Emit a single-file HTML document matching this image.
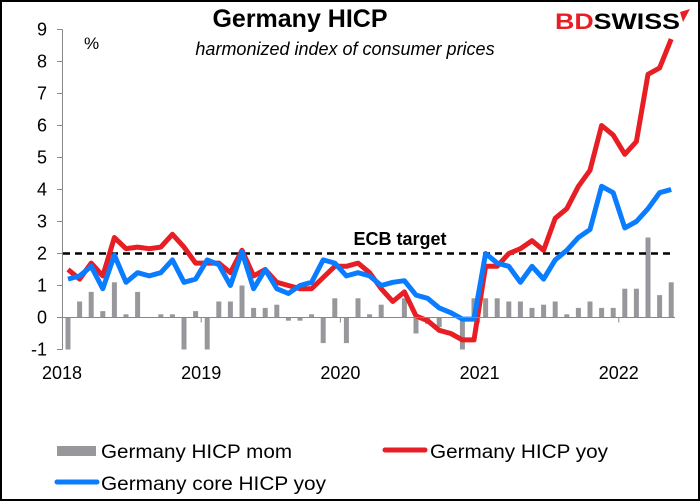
<!DOCTYPE html>
<html><head><meta charset="utf-8"><style>
body{margin:0;background:#fff}
svg{display:block;font-family:"Liberation Sans",Arial,sans-serif}
</style></head><body>
<svg id="chart" width="700" height="501" viewBox="0 0 700 501">
<rect x="1" y="1" width="698" height="499" fill="#fff" stroke="#000" stroke-width="2"/>
<text x="300" y="27" font-size="25" font-weight="bold" text-anchor="middle">Germany HICP</text>
<text x="345" y="55" font-size="18" font-style="italic" text-anchor="middle">harmonized index of consumer prices</text>
<text x="84" y="49" font-size="17">%</text>
<g>
<text x="555" y="29" font-size="22" font-weight="bold" textLength="125" lengthAdjust="spacingAndGlyphs"><tspan fill="#e81e25">BD</tspan><tspan fill="#000">SWISS</tspan></text>
<path d="M680 12 L690 9 L683 22 Z" fill="#e81e25"/>
</g>
<g id="grid"></g>
<g id="bars"></g>
<line x1="63" x2="672" y1="253.5" y2="253.5" stroke="#000" stroke-width="2.5" stroke-dasharray="7,5"/>
<text x="400" y="245" font-size="18" font-weight="bold" text-anchor="middle">ECB target</text>
<g id="lines"></g>
<g id="axes"></g>
<g>
<g>
<rect x="57" y="446" width="39" height="10" fill="#98989c"/>
<text x="101" y="458" font-size="19" textLength="191" lengthAdjust="spacingAndGlyphs">Germany HICP mom</text></g>
<g>
<line x1="385" x2="425" y1="450" y2="450" stroke="#e81e25" stroke-width="5" stroke-linecap="round"/>
<text x="430" y="458" font-size="19" textLength="178" lengthAdjust="spacingAndGlyphs">Germany HICP yoy</text></g>
<g>
<line x1="57" x2="97" y1="482" y2="482" stroke="#0a7cff" stroke-width="5" stroke-linecap="round"/>
<text x="101" y="490" font-size="19" textLength="225" lengthAdjust="spacingAndGlyphs">Germany core HICP yoy</text></g>
</g>
</svg>
<script>
const yearLabels=["2018","2019","2020","2021","2022"];
const yTicks=[-1,0,1,2,3,4,5,6,7,8,9];
const mom=[-1.0,0.5,0.8,0.2,1.1,0.1,0.8,0,0.1,0.1,-1.0,0.2,-1.0,0.5,0.5,1.0,0.3,0.3,0.4,-0.1,-0.1,0.1,-0.8,0.6,-0.8,0.6,0.1,0.4,0,0.6,-0.5,-0.2,-0.3,0,-1.0,0.6,0.6,0.6,0.5,0.5,0.3,0.4,0.5,0.1,0.3,0.5,0.3,0.3,0.9,0.9,2.5,0.7,1.1];
const yoy=[1.5,1.2,1.7,1.3,2.5,2.15,2.2,2.15,2.2,2.6,2.2,1.7,1.7,1.7,1.4,2.1,1.3,1.5,1.1,1.0,0.9,0.9,1.25,1.6,1.6,1.7,1.4,0.9,0.5,0.8,0.05,-0.1,-0.4,-0.5,-0.7,-0.7,1.6,1.6,2.0,2.15,2.4,2.1,3.1,3.4,4.1,4.6,6.0,5.7,5.1,5.5,7.6,7.8,8.7];
const core=[1.2,1.3,1.6,0.9,1.95,1.1,1.4,1.3,1.4,1.8,1.1,1.2,1.8,1.65,1.0,2.05,0.9,1.5,0.9,0.75,1.0,1.1,1.8,1.7,1.3,1.4,1.3,1.0,1.1,1.15,0.7,0.6,0.3,0.15,-0.05,-0.05,2.0,1.7,1.6,1.1,1.6,1.2,1.8,2.1,2.5,2.75,4.1,3.9,2.8,3.0,3.4,3.9,4.0];
const NS="http://www.w3.org/2000/svg";
const X0=68,DX=11.6,Y0=317.5,DY=32;
const xs=i=>X0+DX*i, ys=v=>Y0-v*DY;
function mk(tag,attrs,parent){const e=document.createElementNS(NS,tag);for(const k in attrs)e.setAttribute(k,attrs[k]);document.getElementById(parent).appendChild(e);return e;}
mom.forEach((v,i)=>{const y=Math.min(ys(v),ys(0));const b=mk('rect',{x:xs(i)-2.5,y:y,width:5,height:Math.abs(ys(v)-ys(0)),fill:'#98989c'},'bars');

});
function line(data,color,name){const d=data.map((v,i)=>(i?'L':'M')+xs(i).toFixed(1)+' '+ys(v).toFixed(1)).join(' ');
const p=mk('path',{d:d,fill:'none',stroke:color,'stroke-width':5,'stroke-linejoin':'round'},'lines');

}
line(yoy,'#e81e25','line-hicp-yoy');
line(core,'#0a7cff','line-core-hicp-yoy');
const ax=mk('line',{x1:62.5,x2:62.5,y1:ys(9),y2:ys(-1),stroke:'#888','stroke-width':1},'axes');


const xa=mk('line',{x1:62.5,x2:675,y1:ys(0),y2:ys(0),stroke:'#888','stroke-width':1},'axes');


yTicks.forEach(v=>{mk('line',{x1:57,x2:62.5,y1:ys(v),y2:ys(v),stroke:'#888'},'axes');
const t=mk('text',{x:47,y:ys(v)+6,'font-size':18,'text-anchor':'end'},'axes');t.textContent=v;

});
yearLabels.forEach((l,k)=>{const bx=xs(12*k)-6;if(k>0)mk('line',{x1:bx,x2:bx,y1:ys(0),y2:ys(0)+5,stroke:'#888'},'axes');
const t=mk('text',{x:xs(12*k)-6,y:379,'font-size':18,'text-anchor':'middle'},'axes');t.textContent=l;

});
</script>
</body></html>
